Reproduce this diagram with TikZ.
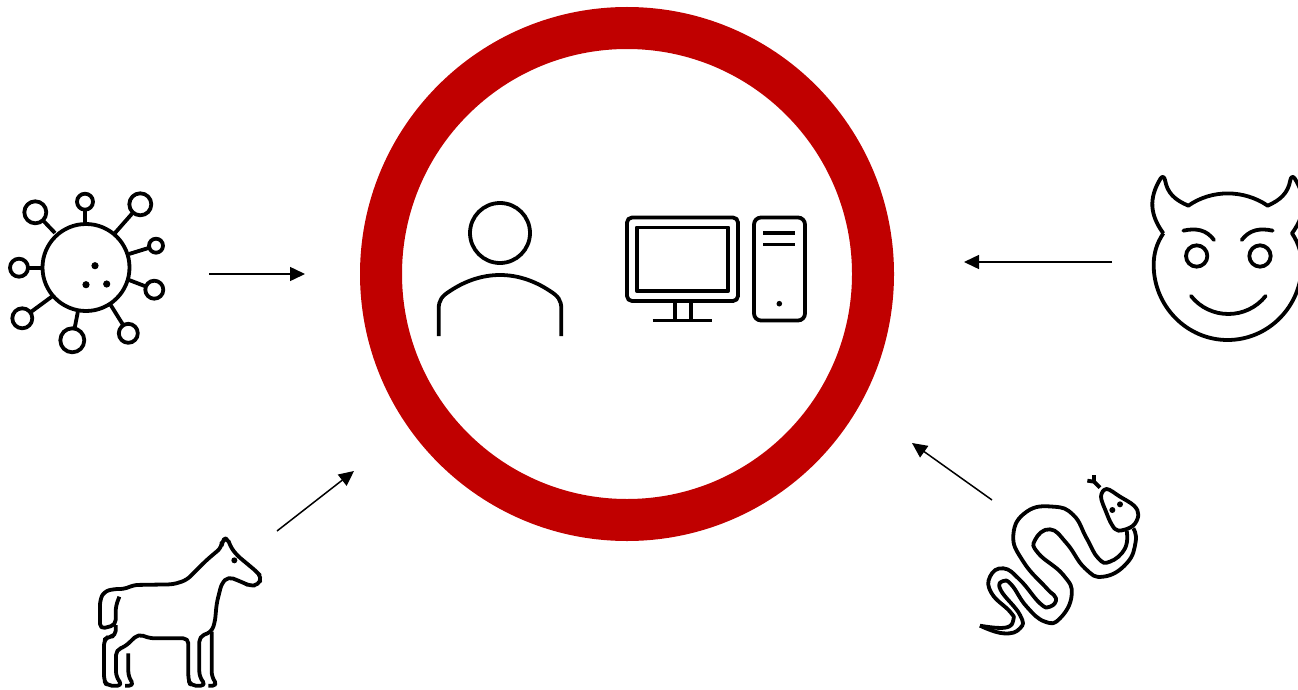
\documentclass[tikz,border=0pt]{standalone}
\usepackage{xcolor}
\usetikzlibrary{arrows.meta, calc}
\definecolor{ringred}{HTML}{C00000}

\begin{document}
\begin{tikzpicture}[
    x=1pt, y=-1pt,
    icon/.style={line width=3.8pt, line join=round},
    arrow/.style={-{Triangle[length=15pt,width=14pt]}, line width=1.5pt},
    zoomed/.style={x=0.33333pt, y=-0.33333pt}
]
\useasboundingbox (0,0) rectangle (1298,690);

% ring
\node[circle, draw=ringred, line width=42pt, minimum size=492pt, inner sep=0pt] (ring) at (627,274) {};

% user
\node[circle, draw, icon, minimum size=60pt, inner sep=0pt] (head) at (500,233) {};
\draw[icon] (438.7,336) -- (438.7,309) .. controls (438.7,300) and (442,296) .. (450,291)
    .. controls (465,281) and (482,275) .. (500,275) .. controls (518,275) and (535,281) .. (550,291)
    .. controls (558,296) and (561.3,300) .. (561.3,309) -- (561.3,336);

% computer
\draw[icon, rounded corners=5pt] (627,217.5) rectangle (738,301);
\draw[icon] (636.7,227.5) rectangle (728.3,291);
\draw[icon] (675,301) -- (675,320) (691,301) -- (691,320) (652.7,320.5) -- (711.7,320.5);
\draw[icon, rounded corners=7pt] (754,217.5) rectangle (805,320.5);
\draw[icon] (763,232.7) -- (795,232.7) (763,244.5) -- (795,244.5);
\fill (779.3,303.7) circle (2.8);

% virus
\node[circle, draw, icon, minimum size=87pt, inner sep=0pt] (cell) at (86,267.5) {};
\foreach \cx/\cy/\rad/\lx/\ly in {
    85/201.7/8/85/223, 140.3/204.3/11/115/233, 156/245.7/7/129/254,
    154.3/289.7/9/129/280, 128.3/333.3/9.5/110.7/305, 72.3/340.3/12/78/311,
    22.3/318.3/10/51.7/296.7, 19/267.7/9/42/267.7, 35.3/212.3/11/55/233}
{
    \draw[icon] (\cx,\cy) circle (\rad);
    \draw[icon] (\lx,\ly) -- ($(\cx,\cy)!\rad pt!(\lx,\ly)$);
}
\foreach \cx/\cy in {95/265.7, 86/284.7, 106.7/284}
    \fill (\cx,\cy) circle (3.6);

% horse
\begin{scope}[shift={(80,520)}, zoomed]
\draw[icon, rounded corners=5pt] (118,230) -- (107,260) -- (107,315) -- (60,327) -- (60,240)
    -- (72,215) -- (100,207) -- (135,207) -- (160,195) -- (280,193) -- (320,180) -- (380,120)
    -- (425,82) -- (425,62) -- (443,52) -- (450,78) -- (470,105) -- (530,155) -- (545,172)
    -- (535,195) -- (510,198) -- (490,188) -- (445,170) -- (425,190) -- (410,250) -- (405,305) -- (395,335)
    -- (358,350) -- (358,470) -- (378,497) -- (332,497) -- (325,480) -- (325,355) -- (210,355)
    -- (175,342) -- (135,380) -- (108,390) -- (108,470) -- (128,497) -- (80,497) -- (72,480)
    -- (72,360) -- (85,350) -- (107,348) -- (107,315);
\draw[icon, rounded corners=5pt] (395,335) -- (395,470) -- (413,497) -- (385,497);
\draw[icon, rounded corners=5pt] (145,400) -- (145,470) -- (163,497) -- (135,497);
\fill (463,121) circle (9);
\end{scope}

% snake
\begin{scope}[shift={(970,465)}, zoomed]
\draw[icon] plot[smooth cycle, tension=.6] coordinates {(393,95) (410,72) (450,95) (492,122) (505,150)
    (488,183) (445,197) (425,178) (408,140)};
\fill (427,135) circle (9) (450,118) circle (9);
\draw[icon] (390,68) -- (372,50) (352,47) -- (372,50) -- (372,30);
\draw[icon] plot[smooth, tension=.8] coordinates {(470,197) (465,250) (420,290) (385,280)
    (350,220) (310,150) (250,125) (170,140) (130,210) (160,290) (230,370) (258,400) (240,425)
    (210,415) (150,345) (100,310) (60,335) (65,385) (120,440) (130,465) (105,488) (30,482)};
\draw[icon] plot[smooth, tension=.8] coordinates {(490,190) (497,230) (470,295) (400,335)
    (345,310) (290,235) (240,193) (195,225) (205,265) (280,330) (305,390) (270,460) (225,470)
    (170,425) (125,360) (100,348) (92,375) (150,450) (150,490) (100,505) (30,482)};
\end{scope}

% devil
\begin{scope}[shift={(1130,165)}, zoomed]
\draw[icon] (100,205) .. controls (60,150) and (55,100) .. (92,40) .. controls (97,33) and (103,35) .. (105,45)
    .. controls (112,85) and (135,105) .. (175,122) .. controls (245,73) and (341,73) .. (413,122)
    .. controls (451,105) and (474,85) .. (481,45) .. controls (483,35) and (489,33) .. (494,40)
    .. controls (531,100) and (526,150) .. (486,205)
    .. controls (506,235) and (515,265) .. (515,300) .. controls (515,423) and (416,525) .. (293,525)
    .. controls (170,525) and (71,423) .. (71,300) .. controls (71,265) and (80,235) .. (100,205);
\draw[icon] (200,273) circle (32) (390,273) circle (32);
\draw[icon, line cap=round] (160,197) .. controls (200,188) and (230,195) .. (252,225);
\draw[icon, line cap=round] (428,197) .. controls (388,188) and (358,195) .. (335,225);
\draw[icon, line cap=round] (183,393) .. controls (240,465) and (350,465) .. (407,393);
\end{scope}

% arrows
\coordinate (virusout) at (209,274);
\coordinate (virusin) at (305,274);
\coordinate (horseout) at (277,531);
\coordinate (horsein) at (354,471);
\coordinate (snakeout) at (992,500);
\coordinate (snakein) at (912,443);
\coordinate (devilout) at (1112,262);
\coordinate (devilin) at (964,262);

\draw[arrow] (virusout) -- (virusin);
\draw[arrow] (horseout) -- (horsein);
\draw[arrow] (snakeout) -- (snakein);
\draw[arrow] (devilout) -- (devilin);

\end{tikzpicture}
\end{document}
